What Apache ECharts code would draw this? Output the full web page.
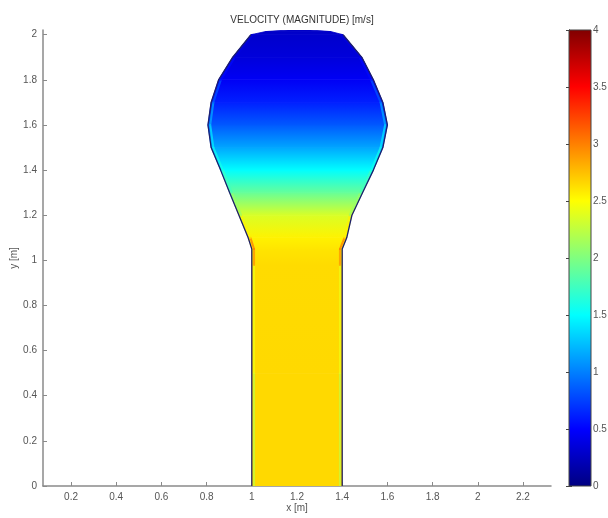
<!DOCTYPE html>
<html>
<head>
<meta charset="utf-8">
<script src="https://cdn.jsdelivr.net/npm/echarts@6/dist/echarts.min.js"></script>
<style>
html, body { margin: 0; padding: 0; background: #fff; }
#chart { width: 608px; height: 518px; }
</style>
</head>
<body>
<div id="chart"></div>
<script>
// section levels of the domain (y) with wall positions and speeds
var yLevels = [0, 0.5, 0.98, 1.05, 1.1, 1.2, 1.3, 1.4, 1.5, 1.6, 1.7, 1.8, 1.9, 2.0, 2.014, 2.021];
var leftX = [1.0, 1.0, 1.0, 1.0, 0.984, 0.943, 0.902, 0.862, 0.82, 0.806, 0.82, 0.853, 0.915, 0.996, 1.06, 1.16];
var rightX = [1.4, 1.4, 1.4, 1.4, 1.42, 1.443, 1.49, 1.538, 1.58, 1.6, 1.58, 1.538, 1.487, 1.404, 1.35, 1.26];
var centerSpeed = [2.65, 2.65, 2.64, 2.6, 2.55, 2.35, 1.9, 1.5, 1.15, 0.85, 0.62, 0.46, 0.36, 0.3, 0.28, 0.28];
var wallSpeed = [2.25, 2.25, 2.6, 3.3, 2.8, 2.3, 1.9, 1.6, 1.55, 1.35, 1.05, 0.65, 0.42, 0.32, 0.28, 0.28];

var xTicks = [0.2, 0.4, 0.6, 0.8, 1, 1.2, 1.4, 1.6, 1.8, 2, 2.2];
var yTicks = [0, 0.2, 0.4, 0.6, 0.8, 1, 1.2, 1.4, 1.6, 1.8, 2];
var cRange = [0, 4];

// MATLAB jet colormap
function jet(v) {
  var t = (v - cRange[0]) / (cRange[1] - cRange[0]);
  function c(a) { return Math.round(Math.max(0, Math.min(1, a)) * 255); }
  var r = c(Math.min(4 * t - 1.5, -4 * t + 4.5));
  var g = c(Math.min(4 * t - 0.5, -4 * t + 3.5));
  var b = c(Math.min(4 * t + 0.5, -4 * t + 2.5));
  return 'rgb(' + r + ',' + g + ',' + b + ')';
}

var bands = [];
var strips = [];
var inset = 0.01;
for (var i = 0; i < yLevels.length - 1; i++) {
  bands.push([yLevels[i], yLevels[i + 1], leftX[i], rightX[i], leftX[i + 1], rightX[i + 1], centerSpeed[i], centerSpeed[i + 1]]);
  if (yLevels[i + 1] <= 2.0) {
    strips.push([yLevels[i], yLevels[i + 1], leftX[i] + inset, leftX[i + 1] + inset, (wallSpeed[i] + wallSpeed[i + 1]) / 2]);
    strips.push([yLevels[i], yLevels[i + 1], rightX[i] - inset, rightX[i + 1] - inset, (wallSpeed[i] + wallSpeed[i + 1]) / 2]);
  }
}
var leftWall = [], rightWall = [];
for (var j = 0; j < yLevels.length; j++) {
  if (yLevels[j] <= 2.0) {
    leftWall.push([leftX[j], yLevels[j]]);
    rightWall.push([rightX[j], yLevels[j]]);
  }
}

var chart = echarts.init(document.getElementById('chart'));
var axisGray = '#8a8a8a';
var labelGray = '#555';

var option = {
  animation: false,
  title: {
    text: 'VELOCITY (MAGNITUDE) [m/s]',
    left: 297,
    top: 10,
    textAlign: 'center',
    textStyle: { fontSize: 10, fontWeight: 'normal', color: '#333', fontFamily: 'Liberation Sans' }
  },
  grid: [
    { left: 43, right: 57, top: 30, bottom: 32, containLabel: false, outerBoundsMode: 'none' },
    { left: 569, width: 22, top: 30, bottom: 32, containLabel: false, outerBoundsMode: 'none' }
  ],
  xAxis: [
    {
      gridIndex: 0, type: 'value', min: 0.076, max: 2.324,
      name: 'x [m]', nameLocation: 'middle', nameGap: 17, nameMoveOverlap: false,
      nameTextStyle: { fontSize: 10, color: labelGray, fontFamily: 'Liberation Sans' },
      axisLine: { lineStyle: { color: axisGray, width: 1.5 } },
      axisTick: { inside: true, length: 4, customValues: xTicks, lineStyle: { color: axisGray } },
      axisLabel: { customValues: xTicks, fontSize: 10, color: labelGray, margin: 6, fontFamily: 'Liberation Sans' },
      splitLine: { show: false }
    },
    { gridIndex: 1, type: 'value', min: 0, max: 1, show: false }
  ],
  yAxis: [
    {
      gridIndex: 0, type: 'value', min: 0, max: 2.021,
      name: 'y [m]', nameLocation: 'middle', nameGap: 24, nameRotate: 90, nameMoveOverlap: false,
      nameTextStyle: { fontSize: 10, color: labelGray, fontFamily: 'Liberation Sans' },
      axisLine: { show: true, lineStyle: { color: axisGray, width: 1.5 } },
      axisTick: { show: true, inside: true, length: 4, customValues: yTicks, lineStyle: { color: axisGray } },
      axisLabel: { customValues: yTicks, fontSize: 10, color: labelGray, margin: 6, fontFamily: 'Liberation Sans' },
      splitLine: { show: false }
    },
    {
      gridIndex: 1, type: 'value', min: cRange[0], max: cRange[1], interval: 0.5, position: 'right',
      axisLine: { show: true, lineStyle: { color: '#444' } },
      axisTick: { show: true, inside: true, length: 3, lineStyle: { color: '#444' } },
      axisLabel: { fontSize: 10, color: labelGray, margin: 2, fontFamily: 'Liberation Sans' },
      splitLine: { show: false }
    },
    {
      gridIndex: 1, type: 'value', min: cRange[0], max: cRange[1], interval: 0.5, position: 'left',
      axisLine: { show: true, lineStyle: { color: '#444' } },
      axisTick: { show: true, inside: true, length: 3, lineStyle: { color: '#444' } },
      axisLabel: { show: false },
      splitLine: { show: false }
    }
  ],
  series: [
    {
      name: 'field', type: 'custom', xAxisIndex: 0, yAxisIndex: 0, clip: true,
      data: bands,
      encode: { x: [2, 3, 4, 5], y: [0, 1] },
      renderItem: function (params, api) {
        var y0 = api.value(0), y1 = api.value(1);
        var pts = [
          api.coord([api.value(2), y0]),
          api.coord([api.value(3), y0]),
          api.coord([api.value(5), y1]),
          api.coord([api.value(4), y1])
        ];
        var grad = new echarts.graphic.LinearGradient(0, 0, 0, 1, [
          { offset: 0, color: jet(api.value(7)) },
          { offset: 1, color: jet(api.value(6)) }
        ]);
        return { type: 'polygon', shape: { points: pts }, style: { fill: grad, stroke: grad, lineWidth: 0.8 } };
      }
    },
    {
      name: 'wallLayer', type: 'custom', xAxisIndex: 0, yAxisIndex: 0, clip: true,
      data: strips,
      encode: { x: [2, 3], y: [0, 1] },
      renderItem: function (params, api) {
        var a = api.coord([api.value(2), api.value(0)]);
        var b = api.coord([api.value(3), api.value(1)]);
        return {
          type: 'line',
          shape: { x1: a[0], y1: a[1], x2: b[0], y2: b[1] },
          style: { stroke: jet(api.value(4)), lineWidth: 2, opacity: 0.7, lineCap: 'round' }
        };
      }
    },
    {
      name: 'leftWall', type: 'line', xAxisIndex: 0, yAxisIndex: 0, data: leftWall,
      showSymbol: false, silent: true, lineStyle: { color: '#1d1f6e', width: 1.3 }
    },
    {
      name: 'rightWall', type: 'line', xAxisIndex: 0, yAxisIndex: 0, data: rightWall,
      showSymbol: false, silent: true, lineStyle: { color: '#1d1f6e', width: 1.3 }
    },
    {
      name: 'colorbar', type: 'custom', xAxisIndex: 1, yAxisIndex: 1, clip: false,
      data: [[0, cRange[0], 1, cRange[1]]],
      encode: { x: [0, 2], y: [1, 3] },
      renderItem: function (params, api) {
        var p0 = api.coord([api.value(0), api.value(3)]);
        var p1 = api.coord([api.value(2), api.value(1)]);
        var stops = [0, 0.125, 0.375, 0.625, 0.875, 1].map(function (s) {
          return { offset: s, color: jet(cRange[1] - s * (cRange[1] - cRange[0])) };
        });
        return {
          type: 'rect',
          shape: { x: p0[0], y: p0[1], width: p1[0] - p0[0], height: p1[1] - p0[1] },
          style: { fill: new echarts.graphic.LinearGradient(0, 0, 0, 1, stops), stroke: '#444', lineWidth: 1 }
        };
      }
    }
  ]
};
chart.setOption(option);
</script>
</body>
</html>
